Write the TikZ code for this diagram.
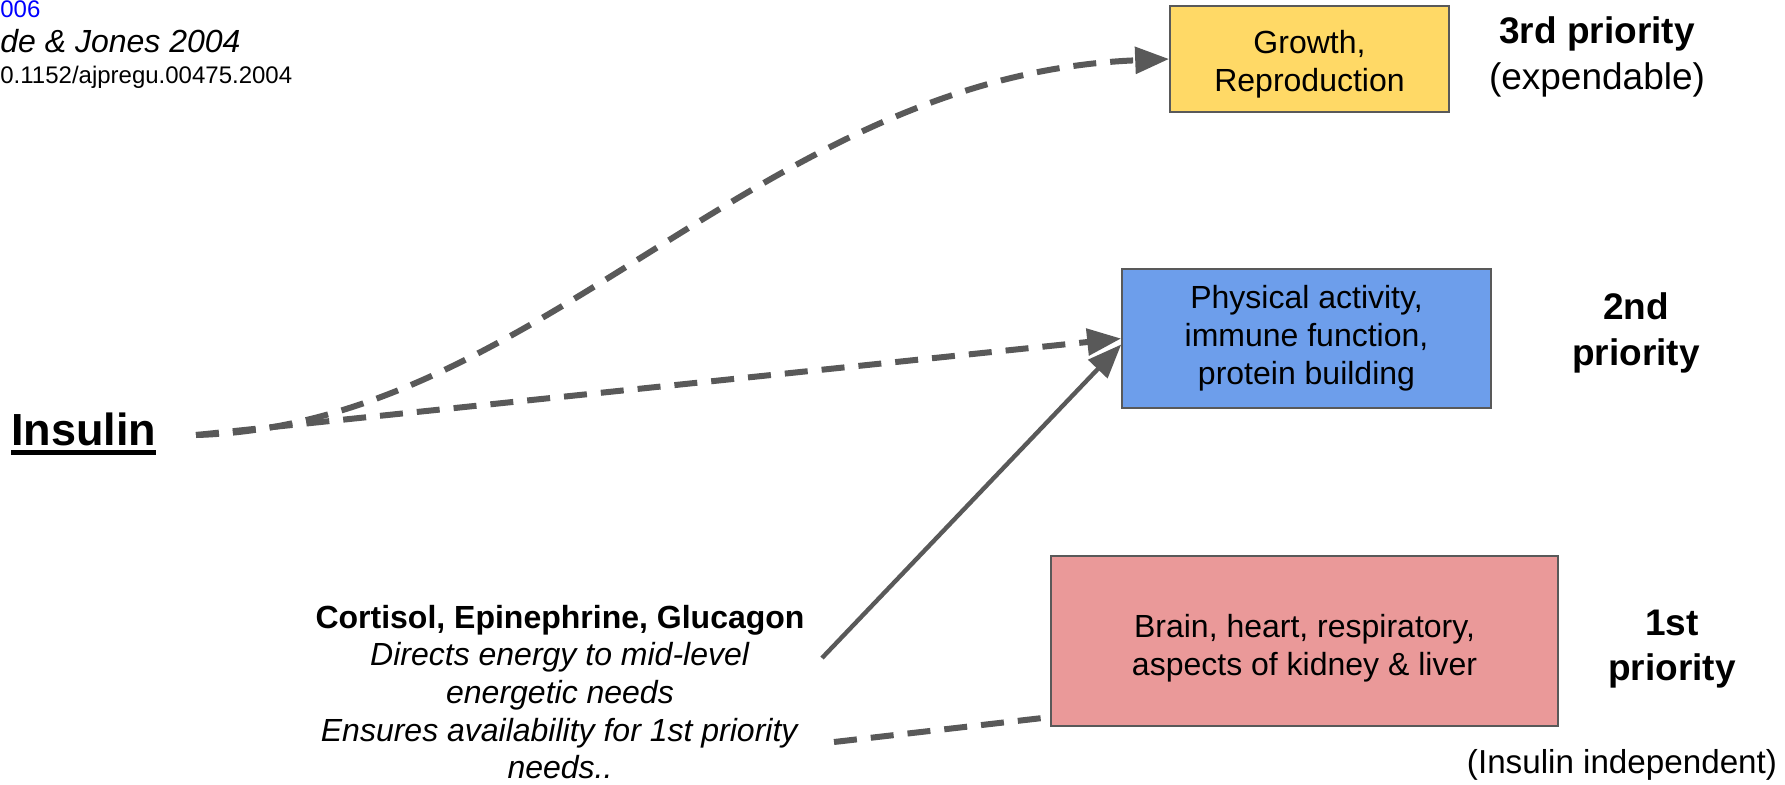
\documentclass[tikz,border=0pt]{standalone}
\usepackage{fontspec}
\setmainfont{Liberation Sans}
\usepackage{xcolor}
\usetikzlibrary{arrows.meta,positioning,calc}
\definecolor{linegray}{HTML}{595959}
\definecolor{boxyellow}{HTML}{FFD966}
\definecolor{boxblue}{HTML}{6D9EEB}
\definecolor{boxred}{HTML}{EA9999}
\newcommand{\ulword}[1]{\setbox0\hbox{#1}\rlap{\rule[-4.5pt]{\wd0}{2.5pt}}\box0}

\begin{document}
\begin{tikzpicture}[x=0.5pt,y=-0.5pt,
	box/.style={draw=linegray, line width=0.8pt, align=center, font=\fontsize{16}{19}\selectfont},
	prio/.style={align=center, font=\fontsize{18.5}{22.8}\selectfont},
	dashline/.style={linegray, line width=3pt, dash pattern=on 11.5pt off 7pt},
	tip/.style={-{Triangle[length=17pt,width=13pt]}}]
		\useasboundingbox (0,0) rectangle (1785,784);
		% reference in the corner
		\node[anchor=base west, inner sep=0, blue, font=\fontsize{12}{14}\selectfont] (year) at (0,17) {006};
		\node[anchor=base west, inner sep=0, font=\fontsize{16}{19}\selectfont\itshape] (cite) at (0,52) {de \& Jones 2004};
		\node[anchor=base west, inner sep=0, font=\fontsize{12}{14}\selectfont] (doi) at (0,83) {0.1152/ajpregu.00475.2004};
		% boxes
		\node[box, fill=boxyellow, minimum width=139.5pt, minimum height=53pt] (growth) at (1309.5,59) {};
		\node[box, draw=none, fill=none] (growthtxt) at (1309.5,64) {Growth,\\Reproduction};
		\node[box, fill=boxblue, minimum width=184.5pt, minimum height=69.5pt] (phys) at (1306.5,338.5) {Physical activity,\\immune function,\\protein building};
		\node[box, fill=boxred, minimum width=253.5pt, minimum height=85pt] (brain) at (1304.5,641) {};
		\node[box, draw=none, fill=none] (braintxt) at (1304.5,648) {Brain, heart, respiratory,\\aspects of kidney \& liver};
		% priorities
		\node[prio] (third) at (1597,57) {\textbf{3rd priority}\\(expendable)};
		\node[prio] (second) at (1636,333) {\textbf{2nd}\\\textbf{priority}};
		\node[prio] (first) at (1672,649) {\textbf{1st}\\\textbf{priority}};
		\node[font=\fontsize{16.6}{20}\selectfont] (indep) at (1622,765) {(Insulin independent)};
		% hormones
		\node[font=\fontsize{22.5}{27}\selectfont\bfseries] (insulin) at (83.5,434) {\ulword{Insulin}};
		\node[align=center, font=\fontsize{16}{18.8}\selectfont] (horm) at (560,692) {\textbf{Cortisol, Epinephrine, Glucagon}\\\textit{Directs energy to mid-level}\\\textit{energetic needs}\\\textit{Ensures availability for 1st priority}\\\textit{needs..}};
		\coordinate (start) at (196,435);
		\coordinate (hup) at (822,658);
		\coordinate (hdown) at (834,742);
		\draw[dashline,tip] (start) .. controls (540,425) and (760,75) .. (growth.west);
		\draw[dashline,tip] (start) -- (phys.west);
		\draw[linegray, line width=2.2pt, tip] (hup) -- ($(phys.west)+(0,6)$);
		\draw[dashline] (hdown) -- ($(brain.south west)+(-6,-9)$);
		\end{tikzpicture}
\end{document}
